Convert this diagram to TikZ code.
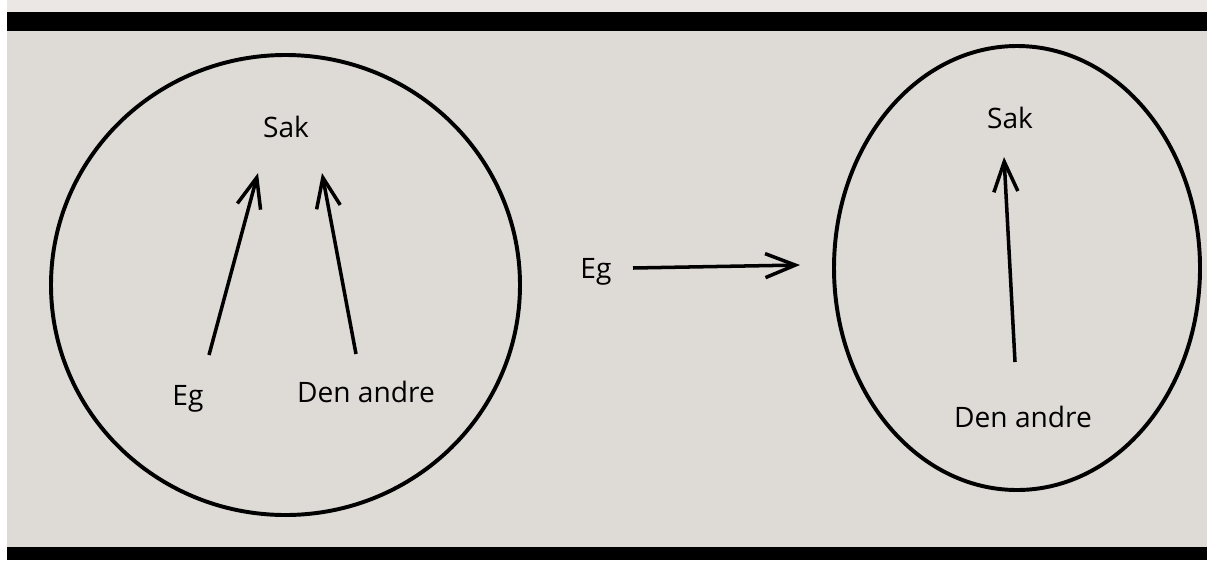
\documentclass[tikz,border=0pt]{standalone}
\usepackage{fontspec}
\setmainfont{Open Sans}
\usepackage{xcolor}
\usetikzlibrary{arrows.meta, positioning}

\definecolor{paper}{RGB}{222,218,214}
\definecolor{paperlight}{RGB}{234,231,228}

\begin{document}
\begin{tikzpicture}[x=0.025cm, y=-0.025cm]
    % Define styles
    \tikzstyle{word} = [font=\fontsize{20}{24}\selectfont, inner sep=0pt, anchor=base]
    \tikzstyle{ring} = [line width=2.8pt]
    \tikzstyle{arr} = [line width=2.5pt, -{Straight Barb[length=7.5mm, width=6mm, line width=2.5pt]}]

    % Page and black bars
    \useasboundingbox (0,0) rectangle (1207,560);
    \fill[white] (0,0) rectangle (1207,560);
    \fill[paper] (7,0) rectangle (1207,560);
    \fill[paperlight] (7,0) rectangle (1207,12);
    \fill[black] (7,12) rectangle (1207,31);
    \fill[black] (7,547) rectangle (1207,560);

    % Left circle
    \draw[ring] (285.5,285) ellipse [x radius=234.5, y radius=230];
    \node[word] (sakL) at (286,137) {Sak};
    \node[word] (egL) at (188,405) {Eg};
    \node[word] (andreL) at (366,402) {Den andre};

    \coordinate (egLtail) at (209,355);
    \coordinate (egLtip) at (258,173);
    \coordinate (andreLtail) at (356,354);
    \coordinate (andreLtip) at (322,173);

    \draw[arr] (egLtail) -- (egLtip);
    \draw[arr] (andreLtail) -- (andreLtip);

    % Middle
    \node[word] (egM) at (596,278) {Eg};
    \coordinate (egMtail) at (633,268);
    \coordinate (egMtip) at (800,265);
    \draw[arr] (egMtail) -- (egMtip);

    % Right ellipse
    \draw[ring] (1017,268) ellipse [x radius=183, y radius=222];
    \node[word] (sakR) at (1010,128) {Sak};
    \node[word] (andreR) at (1023,427) {Den andre};

    \coordinate (andreRtail) at (1015,362);
    \coordinate (andreRtip) at (1004,157);
    \draw[arr] (andreRtail) -- (andreRtip);

\end{tikzpicture}
\end{document}
